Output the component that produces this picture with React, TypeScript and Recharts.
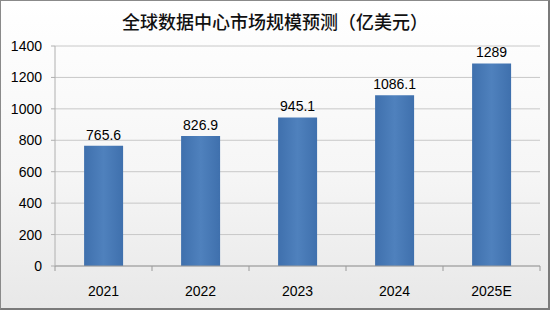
import { BarChart, Bar, XAxis, YAxis, CartesianGrid, LabelList } from 'recharts'

const years = ['2021', '2022', '2023', '2024', '2025E']
const marketSize = [765.6, 826.9, 945.1, 1086.1, 1289]
const yTicks = [0, 200, 400, 600, 800, 1000, 1200, 1400]
const title = '全球数据中心市场规模预测（亿美元）'

const data = years.map((year, i) => ({ year, value: marketSize[i] }))

const font = '"Liberation Sans", Arial, sans-serif'
const X_TICK_MARGIN = 20

// category label plus Excel-style tick marks on the band edges
function YearTick(props: any) {
  const { x, y, payload, index, visibleTicksCount } = props
  const half = payload?.offset ?? 0
  const axisY = y - X_TICK_MARGIN
  const last = index === visibleTicksCount - 1
  return (
    <g>
      <line x1={x - half} x2={x - half} y1={axisY} y2={axisY + 5} stroke="#9a9a9a" />
      {last && <line x1={x + half} x2={x + half} y1={axisY} y2={axisY + 5} stroke="#9a9a9a" />}
      <text x={x} y={y} dy="0.71em" textAnchor="middle" fill="#000" fontSize={14} fontFamily={font}>
        {payload.value}
      </text>
    </g>
  )
}

export default function App() {
  return (
    <div
      style={{
        position: 'absolute',
        left: 0,
        top: 0,
        width: 550,
        height: 310,
        boxSizing: 'border-box',
        border: '1px solid #8a8a8a',
        borderBottom: '2px solid #7a7a7a',
        borderRight: '2px solid #7a7a7a',
        background: 'linear-gradient(to bottom, #ffffff 0%, #f6f6f6 55%, #e8e8e8 100%)',
        overflow: 'hidden',
      }}
    >
      <div
        style={{
          position: 'absolute',
          top: 7,
          left: 0,
          width: 548,
          textAlign: 'center',
          fontFamily: '"Noto Sans CJK SC", sans-serif',
          fontWeight: 500,
          fontSize: 18,
          color: '#111',
          lineHeight: '26px',
        }}
      >
        {title}
      </div>
      <div style={{ position: 'absolute', left: -1, top: -1 }}>
        <BarChart
          width={550}
          height={310}
          data={data}
          margin={{ top: 46, right: 10, left: 0, bottom: 14 }}
          barCategoryGap="30%"
        >
          <defs>
            <linearGradient id="barBlue" x1="0" y1="0" x2="1" y2="0">
              <stop offset="0%" stopColor="#3f70ad" />
              <stop offset="50%" stopColor="#4f81bd" />
              <stop offset="100%" stopColor="#3f70ad" />
            </linearGradient>
          </defs>
          <CartesianGrid vertical={false} stroke="#c8c8c8" />
          <XAxis
            dataKey="year"
            axisLine={{ stroke: '#9a9a9a' }}
            tickLine={false}
            tickSize={0}
            tickMargin={X_TICK_MARGIN}
            tick={<YearTick />}
          />
          <YAxis
            domain={[0, 1400]}
            ticks={yTicks}
            width={55}
            axisLine={{ stroke: '#b0b0b0' }}
            tickLine={{ stroke: '#b0b0b0' }}
            tickSize={4}
            tickMargin={9}
            tick={{ fill: '#000', fontSize: 14, fontFamily: font }}
          />
          <Bar dataKey="value" fill="url(#barBlue)" maxBarSize={39} isAnimationActive={false}>
            <LabelList
              dataKey="value"
              position="top"
              offset={6}
              style={{ fill: '#000', fontSize: 14, fontFamily: font }}
            />
          </Bar>
        </BarChart>
      </div>
    </div>
  )
}
